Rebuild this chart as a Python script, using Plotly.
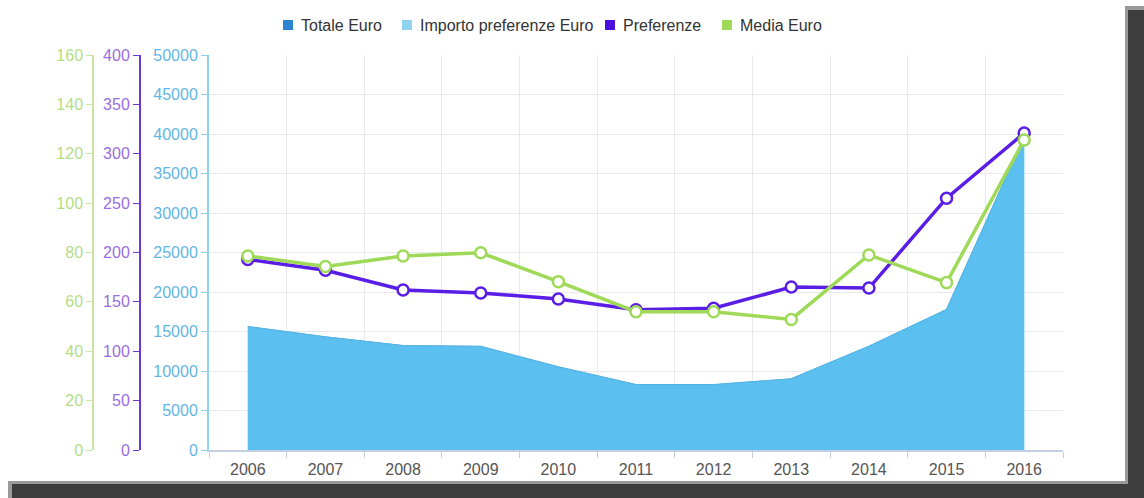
import plotly.graph_objects as go

years = ["2006", "2007", "2008", "2009", "2010", "2011", "2012", "2013", "2014", "2015", "2016"]
totale_euro = [15600, 14300, 13200, 13100, 10500, 8250, 8250, 9000, 13100, 17750, 39600]
importo_preferenze = [15600, 14300, 13200, 13100, 10500, 8250, 8250, 9000, 13100, 17750, 39600]
preferenze = [193, 182, 162, 159, 153, 142, 143.5, 165, 164, 255, 321]
media_euro = [78.6, 74.3, 78.6, 79.9, 68.2, 56.0, 56.0, 52.9, 79.0, 67.8, 125.6]
series_names = ["Totale Euro", "Importo preferenze Euro", "Preferenze", "Media Euro"]

C_TOT = "#2a84d2"
C_IMP = "#8fd3ee"
C_AREA = "#5bbfef"
C_PREF = "#5a1de6"
C_MEDIA = "#9ed957"
legend_colors = [C_TOT, C_IMP, "#4b0fe0", C_MEDIA]
FONT = "Liberation Sans, Arial, sans-serif"

fig = go.Figure()

fig.add_trace(go.Scatter(x=years, y=totale_euro, name=series_names[0], mode="lines",
                         fill="tozeroy", fillcolor=C_AREA, line=dict(color="#4aa6da", width=1.5),
                         yaxis="y"))
fig.add_trace(go.Scatter(x=years, y=importo_preferenze, name=series_names[1], mode="lines",
                         fill="tozeroy", fillcolor=C_AREA, line=dict(color="#55b8e8", width=1),
                         yaxis="y"))
fig.add_trace(go.Scatter(x=years, y=preferenze, name=series_names[2], mode="lines+markers",
                         line=dict(color=C_PREF, width=3.5),
                         marker=dict(size=11, color="white", line=dict(color=C_PREF, width=2.5)),
                         yaxis="y2"))
fig.add_trace(go.Scatter(x=years, y=media_euro, name=series_names[3], mode="lines+markers",
                         line=dict(color=C_MEDIA, width=3.5),
                         marker=dict(size=11, color="white", line=dict(color=C_MEDIA, width=2.5)),
                         yaxis="y3"))

L, R, T, B = 40, 81, 55, 48
W, H = 1144, 498
pw = W - L - R
ph = H - T - B

def fx(px):
    return (px - L) / pw

def fy(py):
    return (H - B - py) / ph

fig.update_layout(
    width=W, height=H,
    margin=dict(l=L, r=R, t=T, b=B),
    paper_bgcolor="white", plot_bgcolor="white",
    font=dict(family=FONT, size=16, color="#555"),
    showlegend=False,
    xaxis=dict(type="category", domain=[fx(209), 1], range=[-0.5, 10.5], tickson="boundaries",
               showgrid=True, gridcolor="#e8e8ee", gridwidth=1,
               showline=True, linecolor="#c0d0e0", linewidth=1.5,
               ticks="outside", ticklen=6, tickcolor="#c0d0e0", ticklabelstandoff=4,
               tickfont=dict(size=16, color="#555"), zeroline=False),
    yaxis=dict(range=[0, 50000], dtick=5000, tickformat="d", side="left", anchor="x",
               showgrid=True, gridcolor="#e8e8ee", zeroline=False,
               showline=True, linecolor="#8fd0f0", linewidth=2,
               ticks="outside", ticklen=6, tickcolor="#8fd0f0",
               tickfont=dict(size=16, color="#62b6e6")),
    yaxis2=dict(range=[0, 400], dtick=50, overlaying="y", side="left", anchor="free",
                position=fx(140), showgrid=False, zeroline=False,
                showline=True, linecolor="#6a3ad8", linewidth=2,
                ticks="outside", ticklen=6, tickcolor="#6a3ad8",
                tickfont=dict(size=16, color="#9a6ee0")),
    yaxis3=dict(range=[0, 160], dtick=20, overlaying="y", side="left", anchor="free",
                position=fx(93), showgrid=False, zeroline=False,
                showline=True, linecolor="#c8e6a0", linewidth=1.5,
                ticks="outside", ticklen=6, tickcolor="#c8e6a0",
                tickfont=dict(size=16, color="#b3de86")),
)

shapes = []
annotations = []

# legend (square keys, compact spacing as in the original)
legend_sq_x = [288, 407, 610, 727]
for nm, col, sx in zip(series_names, legend_colors, legend_sq_x):
    shapes.append(dict(type="rect", xref="paper", yref="paper",
                       x0=fx(sx - 5), x1=fx(sx + 5), y0=fy(30), y1=fy(20),
                       fillcolor=col, line=dict(width=0)))
    annotations.append(dict(text=nm, xref="paper", yref="paper", x=fx(sx + 11), y=fy(25),
                            xanchor="left", yanchor="middle", showarrow=False,
                            font=dict(family=FONT, size=16, color="#333")))

# drop shadow around the card
for (x0, y0, x1, y1, col) in [
    (1125, 6, 1144, 498, "#9a9a9a"),
    (8, 481, 1144, 498, "#9a9a9a"),
    (1128, 10, 1144, 498, "#3d3d3d"),
    (12, 484, 1144, 498, "#3d3d3d"),
]:
    shapes.append(dict(type="rect", xref="paper", yref="paper",
                       x0=fx(x0), x1=fx(x1), y0=fy(y1), y1=fy(y0),
                       fillcolor=col, line=dict(width=0), layer="above"))
fig.update_layout(shapes=shapes, annotations=annotations)

fig.write_html("out.html", config={"displayModeBar": False},
               post_script="document.body.style.margin='0';document.body.style.overflow='hidden';")
